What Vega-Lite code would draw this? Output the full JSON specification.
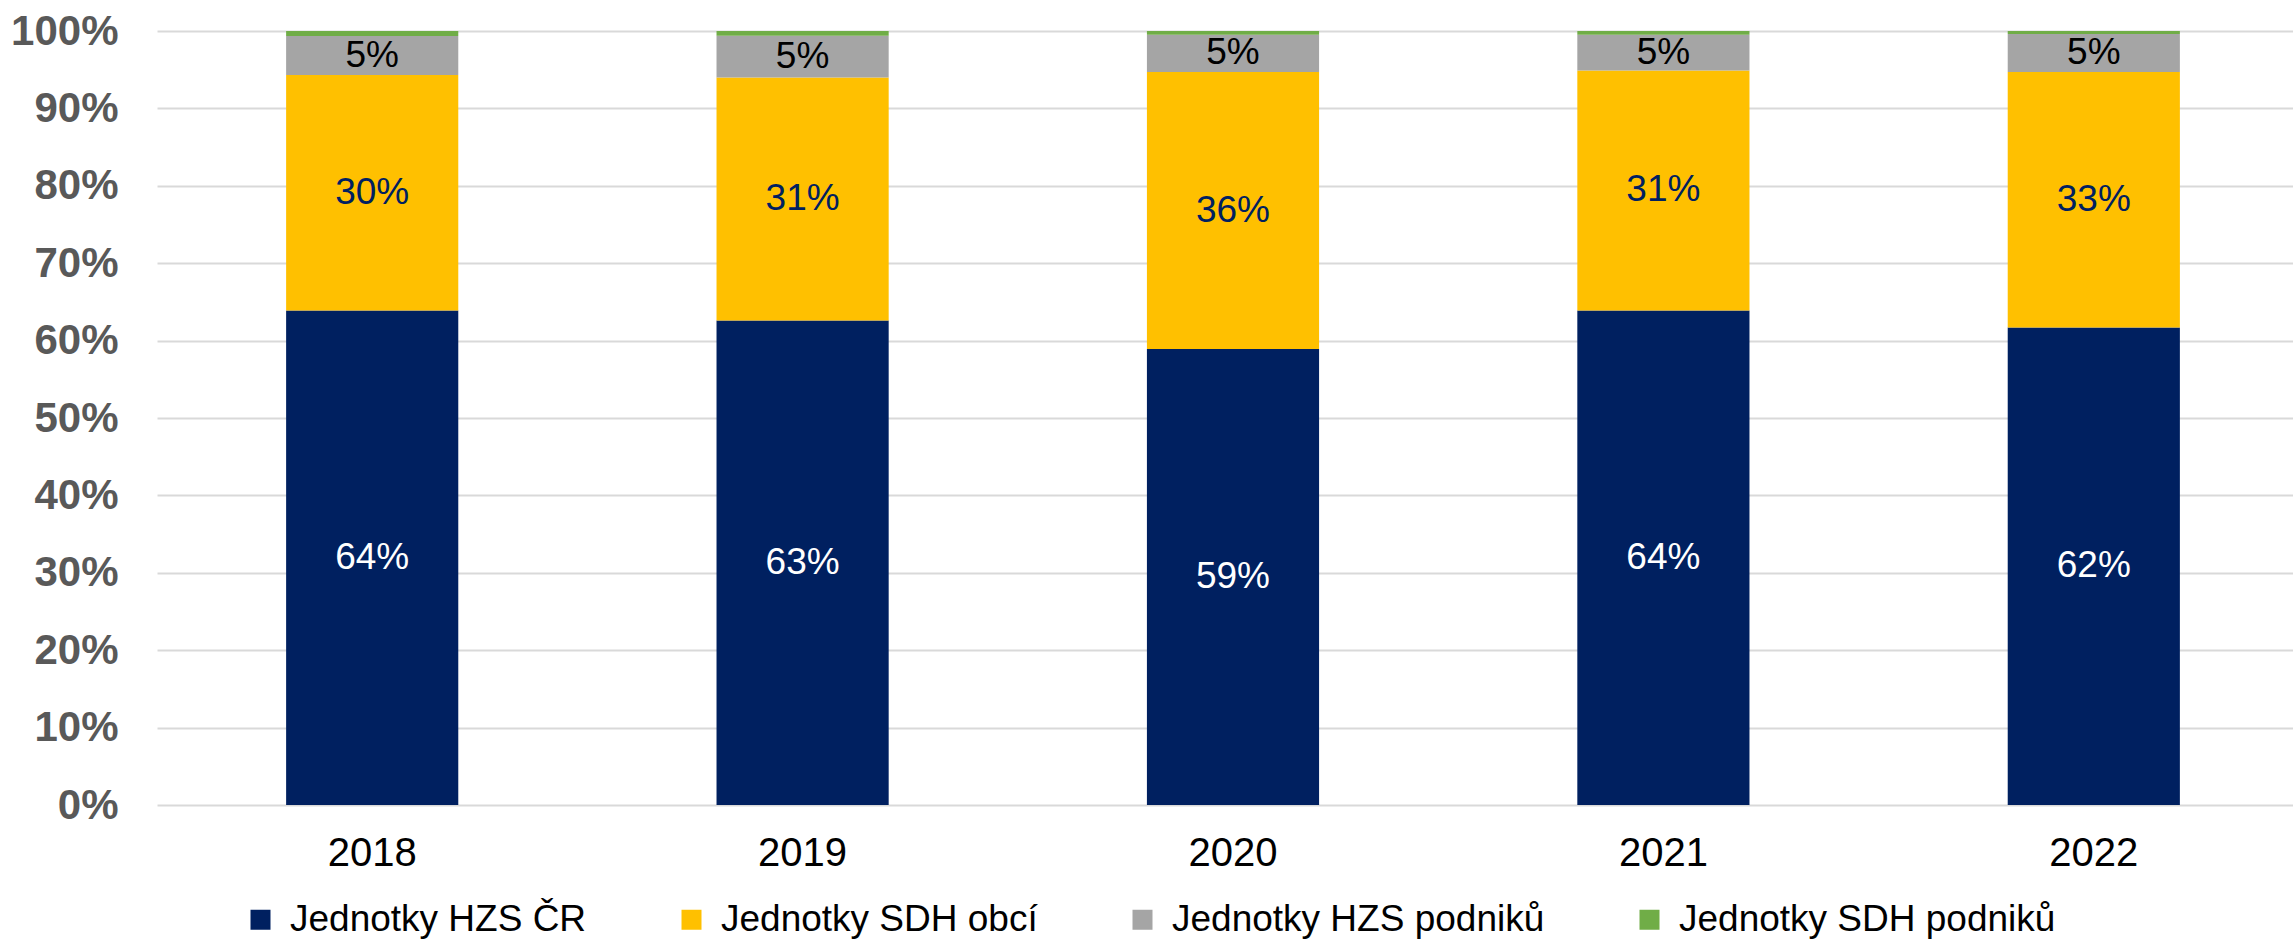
{
  "$schema": "https://vega.github.io/schema/vega-lite/v6.json",
  "autosize": {"type": "none"},
  "width": 2136,
  "height": 774,
  "padding": {"left": 157, "top": 31, "right": 0, "bottom": 137},
  "background": "white",
  "config": {
    "view": {"stroke": null},
    "font": "Liberation Sans"
  },
  "data": {
    "values": [
      {"year": "2018", "category": "Jednotky HZS ČR", "value": 0.639},
      {"year": "2018", "category": "Jednotky SDH obcí", "value": 0.304},
      {"year": "2018", "category": "Jednotky HZS podniků", "value": 0.0505},
      {"year": "2018", "category": "Jednotky SDH podniků", "value": 0.0065},
      {"year": "2019", "category": "Jednotky HZS ČR", "value": 0.626},
      {"year": "2019", "category": "Jednotky SDH obcí", "value": 0.314},
      {"year": "2019", "category": "Jednotky HZS podniků", "value": 0.054},
      {"year": "2019", "category": "Jednotky SDH podniků", "value": 0.006},
      {"year": "2020", "category": "Jednotky HZS ČR", "value": 0.589},
      {"year": "2020", "category": "Jednotky SDH obcí", "value": 0.358},
      {"year": "2020", "category": "Jednotky HZS podniků", "value": 0.048},
      {"year": "2020", "category": "Jednotky SDH podniků", "value": 0.005},
      {"year": "2021", "category": "Jednotky HZS ČR", "value": 0.639},
      {"year": "2021", "category": "Jednotky SDH obcí", "value": 0.31},
      {"year": "2021", "category": "Jednotky HZS podniků", "value": 0.046},
      {"year": "2021", "category": "Jednotky SDH podniků", "value": 0.005},
      {"year": "2022", "category": "Jednotky HZS ČR", "value": 0.617},
      {"year": "2022", "category": "Jednotky SDH obcí", "value": 0.33},
      {"year": "2022", "category": "Jednotky HZS podniků", "value": 0.049},
      {"year": "2022", "category": "Jednotky SDH podniků", "value": 0.004}
    ]
  },
  "transform": [
    {"calculate": "indexof(['Jednotky HZS ČR','Jednotky SDH obcí','Jednotky HZS podniků','Jednotky SDH podniků'], datum.category)", "as": "ord"},
    {"stack": "value", "groupby": ["year"], "sort": [{"field": "ord", "order": "ascending"}], "as": ["y0", "y1"]},
    {"calculate": "(datum.y0 + datum.y1) / 2", "as": "mid"}
  ],
  "encoding": {
    "x": {
      "field": "year",
      "type": "nominal",
      "scale": {"range": [0, 2152], "paddingInner": 0.6, "paddingOuter": 0.3},
      "axis": {
        "title": null,
        "labelAngle": 0,
        "domain": false,
        "ticks": false,
        "labelFontSize": 40,
        "labelColor": "#000000",
        "labelPadding": 28,
        "labelFont": "Liberation Sans Narrow, Arial Narrow, Liberation Sans"
      }
    }
  },
  "layer": [
    {
      "mark": {"type": "bar"},
      "encoding": {
        "y": {
          "field": "y0",
          "type": "quantitative",
          "scale": {"domain": [0, 1], "nice": false},
          "axis": {
            "title": null,
            "format": ".0%",
            "values": [0, 0.1, 0.2, 0.3, 0.4, 0.5, 0.6, 0.7, 0.8, 0.9, 1],
            "domain": false,
            "ticks": false,
            "labelFontSize": 42,
            "labelFontWeight": "bold",
            "labelColor": "#595959",
            "labelPadding": 39,
            "gridColor": "#d9d9d9",
            "gridWidth": 2
          }
        },
        "y2": {"field": "y1"},
        "color": {
          "field": "category",
          "type": "nominal",
          "sort": ["Jednotky HZS ČR", "Jednotky SDH obcí", "Jednotky HZS podniků", "Jednotky SDH podniků"],
          "scale": {
            "domain": ["Jednotky HZS ČR", "Jednotky SDH obcí", "Jednotky HZS podniků", "Jednotky SDH podniků"],
            "range": ["#002060", "#FFC000", "#A5A5A5", "#70AD47"]
          },
          "legend": {
            "title": null,
            "orient": "none",
            "legendX": 85,
            "legendY": 870,
            "direction": "horizontal",
            "symbolType": "square",
            "symbolSize": 400,
            "symbolStrokeWidth": 0,
            "labelFontSize": 37,
            "labelColor": "#000000",
            "labelOffset": 11,
            "columnPadding": 86,
            "labelFont": "Liberation Sans Narrow, Arial Narrow, Liberation Sans",
            "labelLimit": 700
          }
        }
      }
    },
    {
      "transform": [{"filter": "datum.category !== 'Jednotky SDH podniků'"}],
      "mark": {"type": "text", "fontSize": 37, "baseline": "middle", "align": "center"},
      "encoding": {
        "y": {"field": "mid", "type": "quantitative"},
        "text": {"field": "value", "type": "quantitative", "format": ".0%"},
        "color": {
          "condition": [
            {"test": "datum.category === 'Jednotky HZS ČR'", "value": "#FFFFFF"},
            {"test": "datum.category === 'Jednotky SDH obcí'", "value": "#002060"}
          ],
          "value": "#000000"
        }
      }
    }
  ]
}
